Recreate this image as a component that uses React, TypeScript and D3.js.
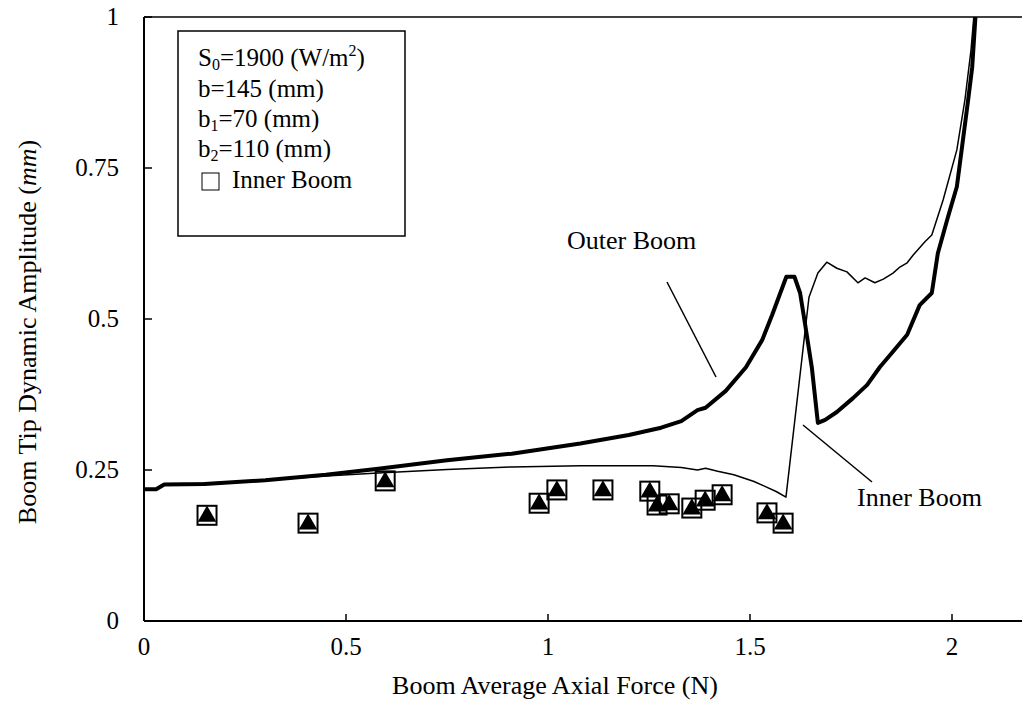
import React from 'react';
import * as d3 from 'd3';

// Outer boom tip amplitude vs. average axial force (thick line)
const outerForce = [0, 0.03, 0.05, 0.15, 0.3, 0.45, 0.58, 0.75, 0.91, 1.08, 1.2, 1.28, 1.33, 1.37, 1.39, 1.44, 1.49, 1.53, 1.555, 1.575, 1.59, 1.61, 1.624, 1.636, 1.653, 1.668, 1.686, 1.715, 1.755, 1.79, 1.822, 1.84, 1.865, 1.889, 1.92, 1.95, 1.965, 1.99, 2.012, 2.027, 2.04, 2.05, 2.058];
const outerAmplitude = [0.218, 0.218, 0.226, 0.227, 0.233, 0.242, 0.252, 0.266, 0.277, 0.294, 0.308, 0.32, 0.331, 0.349, 0.353, 0.381, 0.42, 0.465, 0.507, 0.543, 0.57, 0.57, 0.543, 0.493, 0.42, 0.328, 0.333, 0.346, 0.369, 0.391, 0.421, 0.435, 0.455, 0.474, 0.523, 0.543, 0.609, 0.669, 0.719, 0.796, 0.863, 0.917, 1.0];

// Inner boom tip amplitude (thin line)
const innerForce = [0, 0.03, 0.05, 0.15, 0.3, 0.45, 0.58, 0.75, 0.91, 1.08, 1.26, 1.33, 1.37, 1.39, 1.42, 1.46, 1.51, 1.53, 1.566, 1.589, 1.646, 1.668, 1.69, 1.715, 1.74, 1.767, 1.785, 1.809, 1.83, 1.854, 1.871, 1.889, 1.904, 1.933, 1.95, 1.978, 2.012, 2.032, 2.047, 2.054];
const innerAmplitude = [0.218, 0.218, 0.226, 0.228, 0.233, 0.24, 0.245, 0.251, 0.255, 0.257, 0.257, 0.254, 0.25, 0.253, 0.248, 0.242, 0.231, 0.225, 0.214, 0.205, 0.536, 0.576, 0.594, 0.584, 0.578, 0.56, 0.568, 0.56, 0.566, 0.576, 0.586, 0.593, 0.606, 0.628, 0.639, 0.697, 0.78, 0.863, 0.945, 1.0];

// Measured inner boom points
const measuredForce = [0.156, 0.406, 0.597, 0.978, 1.022, 1.136, 1.252, 1.27, 1.3, 1.356, 1.389, 1.431, 1.542, 1.582];
const measuredAmplitude = [0.175, 0.162, 0.232, 0.195, 0.217, 0.217, 0.215, 0.192, 0.194, 0.187, 0.2, 0.209, 0.179, 0.162];

const xTicks = [0, 0.5, 1, 1.5, 2];
const yTicks = [0, 0.25, 0.5, 0.75, 1];

const FONT = "'Liberation Serif', 'Times New Roman', serif";

export default function App() {
  const W = 1022;
  const H = 701;
  const left = 144;
  const top = 17;
  const bottom = 621;
  const right = 1022;

  const x = d3.scaleLinear().domain([0, 2]).range([left, 952]);
  const y = d3.scaleLinear().domain([0, 1]).range([bottom, top]);

  const outerLine = d3
    .line<number>()
    .x((_, i) => x(outerForce[i]))
    .y((d) => y(d))(outerAmplitude) as string;
  const innerLine = d3
    .line<number>()
    .x((_, i) => x(innerForce[i]))
    .y((d) => y(d))(innerAmplitude) as string;

  const sq = 19;
  const tri = d3.symbol().type(d3.symbolTriangle).size(150)() as string;

  return (
    <svg
      width={W}
      height={H}
      style={{ position: 'absolute', left: 0, top: 0, background: '#fff' }}
      fontFamily={FONT}
    >
      <defs>
        <clipPath id="plot">
          <rect x={left} y={top} width={right - left} height={bottom - top} />
        </clipPath>
      </defs>
      <rect x={0} y={0} width={W} height={H} fill="#fff" />

      {/* frame */}
      <line x1={left} x2={right} y1={top} y2={top} stroke="#000" strokeWidth={1.5} />
      <line x1={left} x2={right} y1={bottom} y2={bottom} stroke="#000" strokeWidth={2} />
      <line x1={left} x2={left} y1={top} y2={bottom} stroke="#000" strokeWidth={2} />

      {/* y axis ticks and labels */}
      {yTicks.map((t) => (
        <g key={'y' + t}>
          <line x1={left} x2={left + 8} y1={y(t)} y2={y(t)} stroke="#000" strokeWidth={1.5} />
          <text x={119} y={y(t) + 8} textAnchor="end" fontSize={25}>
            {String(t)}
          </text>
        </g>
      ))}

      {/* x axis ticks and labels */}
      {xTicks.map((t) => (
        <g key={'x' + t}>
          <line x1={x(t)} x2={x(t)} y1={bottom} y2={bottom - 7} stroke="#000" strokeWidth={1.5} />
          <text x={x(t)} y={655} textAnchor="middle" fontSize={25}>
            {String(t)}
          </text>
        </g>
      ))}

      {/* axis titles */}
      <text x={555} y={694} textAnchor="middle" fontSize={26}>
        Boom Average Axial Force (N)
      </text>
      <text
        transform={`translate(36, 332) rotate(-90)`}
        textAnchor="middle"
        fontSize={26}
      >
        Boom Tip Dynamic Amplitude (<tspan fontStyle="italic">mm</tspan>)
      </text>

      {/* curves */}
      <g clipPath="url(#plot)">
        <path d={innerLine} fill="none" stroke="#000" strokeWidth={1.5} strokeLinejoin="round" />
        <path d={outerLine} fill="none" stroke="#000" strokeWidth={4} strokeLinejoin="round" />
      </g>

      {/* measured points */}
      {measuredForce.map((f, i) => (
        <g key={'m' + i} transform={`translate(${x(f)}, ${y(measuredAmplitude[i])})`}>
          <path d={tri} transform="translate(0, 1)" fill="#000" />
          <rect x={-sq / 2} y={-sq / 2} width={sq} height={sq} fill="none" stroke="#000" strokeWidth={2} />
        </g>
      ))}

      {/* curve labels */}
      <text x={567} y={249} fontSize={26}>Outer Boom</text>
      <line x1={667} y1={282} x2={716} y2={377} stroke="#000" strokeWidth={1.5} />
      <text x={857} y={506} fontSize={26}>Inner Boom</text>
      <line x1={803} y1={425} x2={872} y2={482} stroke="#000" strokeWidth={1.5} />

      {/* parameter box */}
      <rect x={178} y={31} width={227} height={205} fill="#fff" stroke="#000" strokeWidth={1.5} />
      <g fontSize={25}>
        <text x={198} y={66}>
          S<tspan fontSize={16} dy={4}>0</tspan>
          <tspan dy={-4}>=1900 (W/m</tspan>
          <tspan fontSize={16} dy={-10}>2</tspan>
          <tspan dy={10}>)</tspan>
        </text>
        <text x={198} y={97}>b=145 (mm)</text>
        <text x={198} y={127}>
          b<tspan fontSize={16} dy={4}>1</tspan>
          <tspan dy={-4}>=70 (mm)</tspan>
        </text>
        <text x={198} y={157}>
          b<tspan fontSize={16} dy={4}>2</tspan>
          <tspan dy={-4}>=110 (mm)</tspan>
        </text>
        <rect x={202} y={173} width={17} height={17} fill="none" stroke="#000" strokeWidth={1} />
        <text x={232} y={188}>Inner Boom</text>
      </g>
    </svg>
  );
}
